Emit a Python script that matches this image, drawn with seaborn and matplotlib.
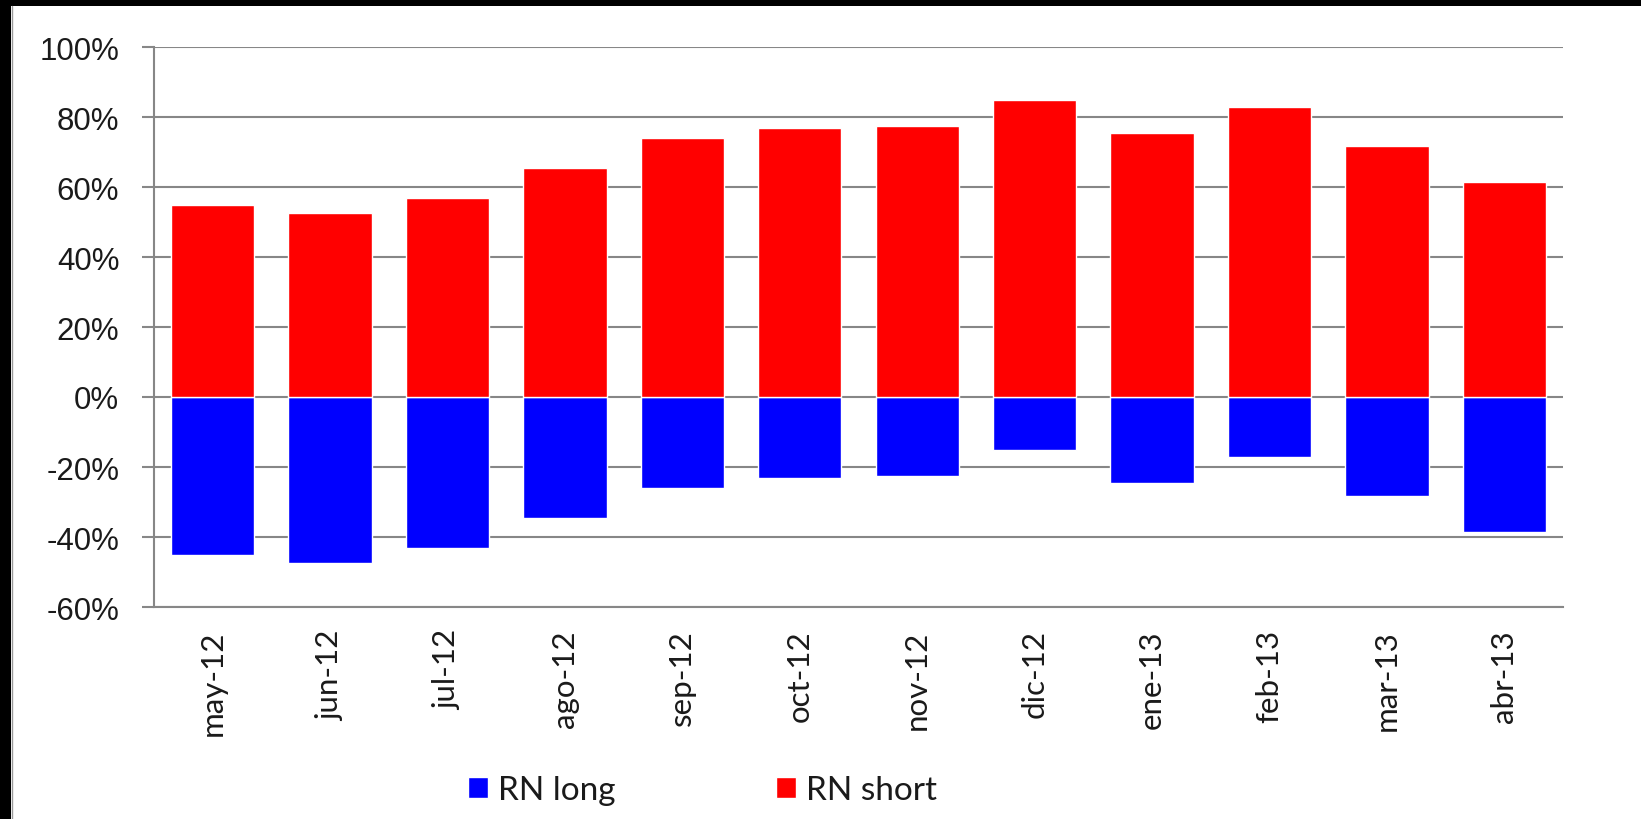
import numpy as np
import pandas as pd
import seaborn as sns
import matplotlib.pyplot as plt
from matplotlib.patches import Rectangle, Patch
from matplotlib.ticker import PercentFormatter

months = ['may-12', 'jun-12', 'jul-12', 'ago-12', 'sep-12', 'oct-12',
          'nov-12', 'dic-12', 'ene-13', 'feb-13', 'mar-13', 'abr-13']
rn_short = [0.55, 0.525, 0.57, 0.655, 0.74, 0.77, 0.775, 0.848, 0.755, 0.828, 0.717, 0.613]
rn_long = [-0.45, -0.475, -0.43, -0.345, -0.26, -0.23, -0.225, -0.152, -0.245, -0.172, -0.283, -0.387]
series = ['RN long', 'RN short']
colors = ['#0000FF', '#FF0000']

df = pd.DataFrame({
    'month': months * 2,
    'value': rn_long + rn_short,
    'series': [series[0]] * len(months) + [series[1]] * len(months),
})

sns.set_style('white')
plt.rcParams['font.family'] = ['Lato', 'DejaVu Sans']
plt.rcParams['axes.unicode_minus'] = False

fig = plt.figure(figsize=(16.41, 8.20), dpi=100, facecolor='black')
# white chart area inside a black frame (top and left)
fig.add_artist(Rectangle((11 / 1641, 0), 1, 1 - 7 / 820, transform=fig.transFigure,
                         facecolor='white', edgecolor='none', zorder=-10))
fig.add_artist(plt.Line2D([11.5 / 1641, 11.5 / 1641], [0, 1 - 7 / 820], transform=fig.transFigure,
                          color='#9a9a9a', lw=1, zorder=-9))
ax = fig.add_axes([154 / 1641, 1 - 608 / 820, (1563 - 154) / 1641, (608 - 48) / 820])
ax.set_facecolor('none')

sns.barplot(data=df, x='month', y='value', hue='series', hue_order=series,
            palette=colors, dodge=False, width=0.71, order=months,
            saturation=1, ax=ax, legend=False, zorder=3)

ax.set_ylim(-0.6, 1.0)
ax.set_xlim(-0.5, len(months) - 0.5)
ax.set_yticks(np.arange(-0.6, 1.01, 0.2))
ax.yaxis.set_major_formatter(PercentFormatter(1.0, decimals=0))
ax.yaxis.grid(True, color='#878787', lw=1.5, zorder=0)
ax.set_axisbelow(True)
ax.set_xlabel('')
ax.set_ylabel('')

for side in ['top', 'right']:
    ax.spines[side].set_visible(False)
for side in ['left', 'bottom']:
    ax.spines[side].set_color('#878787')
    ax.spines[side].set_linewidth(1.5)

ax.set_xticks(np.arange(-0.5, len(months)), minor=True)
ax.tick_params(axis='x', which='major', length=0, pad=16, labelsize=22.5,
               labelrotation=90, labelcolor='#1a1a1a')
ax.tick_params(axis='x', which='minor', length=9, width=1.5, color='#878787', direction='out')
ax.tick_params(axis='y', length=9, width=1.5, color='#878787', left=True,
               direction='out', pad=16, labelsize=22.5, labelcolor='#1a1a1a')
for lab in ax.get_yticklabels():
    lab.set_family(['Liberation Sans', 'DejaVu Sans'])

handles = [Patch(facecolor=c, label=s) for c, s in zip(colors, series)]
fig.legend(handles=handles, loc='center', bbox_to_anchor=(0.428, 0.035), ncol=2,
           frameon=False, fontsize=24, handlelength=0.6, handleheight=0.6,
           handletextpad=0.3, columnspacing=4.8, labelcolor='#1a1a1a')

fig.savefig('out.png', dpi=100, facecolor=fig.get_facecolor())
